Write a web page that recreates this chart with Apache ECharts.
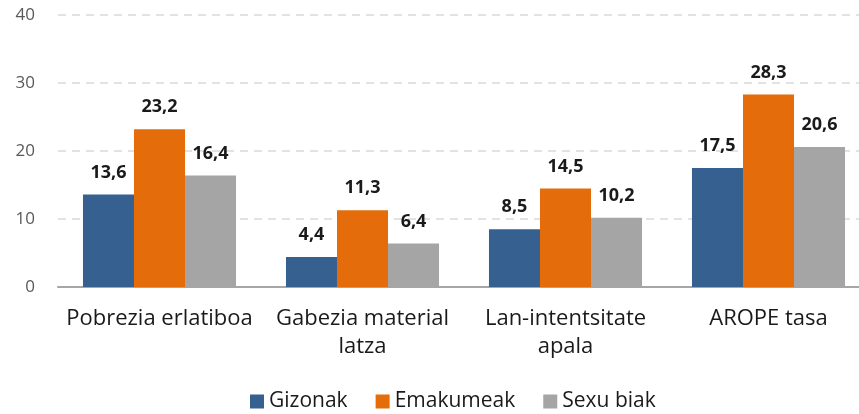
<!DOCTYPE html>
<html>
<head>
<meta charset="utf-8">
<script src="https://cdn.jsdelivr.net/npm/echarts@6/dist/echarts.min.js"></script>
<style>
  html, body { margin: 0; padding: 0; background: #fff; }
  #chart { width: 859px; height: 414px; }
</style>
</head>
<body>
<div id="chart"></div>
<script>
// categories (x axis)
var categories = ["Pobrezia erlatiboa", "Gabezia material\nlatza", "Lan-intentsitate\napala", "AROPE tasa"];
// series values
var gizonak = [13.6, 4.4, 8.5, 17.5];
var emakumeak = [23.2, 11.3, 14.5, 28.3];
var sexuBiak = [16.4, 6.4, 10.2, 20.6];
var seriesNames = ["Gizonak", "Emakumeak", "Sexu biak"];
var colors = ["#36608F", "#E46C0A", "#A5A5A5"];

var fontName = "'Open Sans', sans-serif";

var myChart = echarts.init(document.getElementById("chart"));

function makeSeries(name, data, color) {
  return {
    name: name,
    type: "bar",
    data: data,
    barGap: "0%",
    barCategoryGap: "24.6%",
    itemStyle: { color: color },
    label: {
      show: true,
      position: "top",
      distance: 13,
      fontFamily: fontName,
      fontWeight: "bold",
      fontSize: 18,
      color: "#1a1a1a",
      formatter: function (p) {
        return p.value.toFixed(1).replace(".", ",");
      }
    }
  };
}

var option = {
  animation: false,
  backgroundColor: "#fff",
  grid: {
    left: 58,
    width: 812,
    top: 15,
    bottom: 127,
    outerBoundsMode: "none"
  },
  legend: {
    top: 386,
    left: 245,
    itemWidth: 14,
    itemHeight: 14,
    itemGap: 28,
    icon: "rect",
    textStyle: {
      fontFamily: fontName,
      fontSize: 21,
      color: "#1a1a1a"
    },
    data: seriesNames
  },
  xAxis: {
    type: "category",
    data: categories,
    axisLine: { show: true, lineStyle: { color: "#A6A6A6", width: 2 } },
    axisTick: { show: false },
    axisLabel: {
      interval: 0,
      margin: 18,
      fontFamily: fontName,
      fontSize: 22,
      lineHeight: 28,
      color: "#1a1a1a"
    }
  },
  yAxis: {
    type: "value",
    min: 0,
    max: 40,
    interval: 10,
    axisLine: { show: false },
    axisTick: { show: false },
    splitLine: {
      show: true,
      lineStyle: { color: "#D9D9D9", type: [8, 6], width: 1.5 }
    },
    axisLabel: {
      margin: 23,
      fontFamily: fontName,
      fontSize: 17,
      color: "#595959"
    }
  },
  series: [
    makeSeries(seriesNames[0], gizonak, colors[0]),
    makeSeries(seriesNames[1], emakumeak, colors[1]),
    makeSeries(seriesNames[2], sexuBiak, colors[2])
  ]
};

myChart.setOption(option);
</script>
</body>
</html>
